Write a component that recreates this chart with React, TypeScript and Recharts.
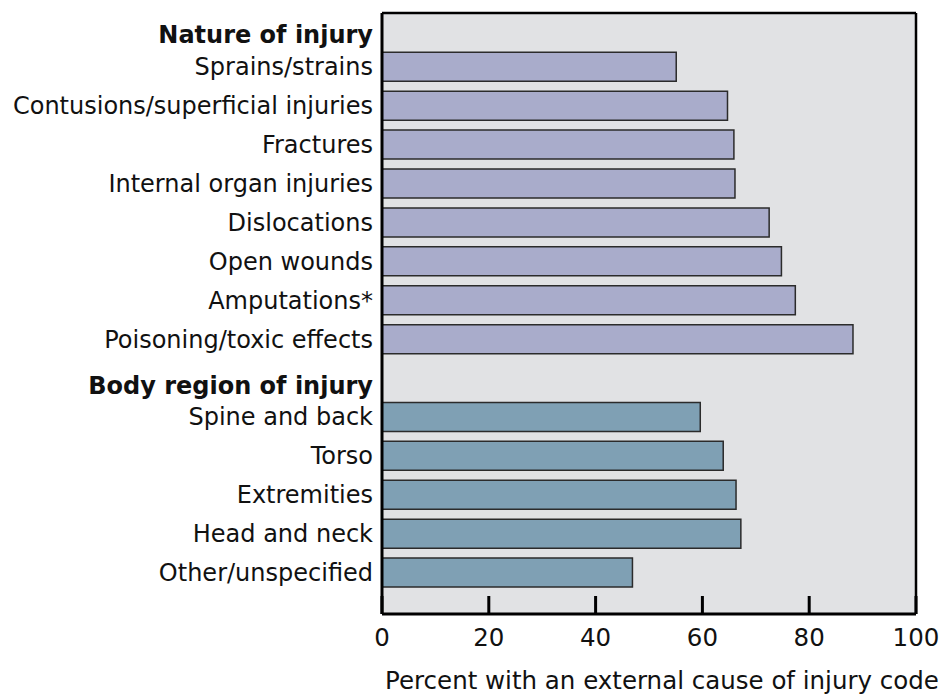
import { BarChart, Bar, XAxis, YAxis, CartesianGrid, Cell } from "recharts";

// Row labels, top to bottom (headers have no bar)
const categories = [
  "Nature of injury",
  "Sprains/strains",
  "Contusions/superficial injuries",
  "Fractures",
  "Internal organ injuries",
  "Dislocations",
  "Open wounds",
  "Amputations*",
  "Poisoning/toxic effects",
  "Body region of injury",
  "Spine and back",
  "Torso",
  "Extremities",
  "Head and neck",
  "Other/unspecified",
];

// Percent with an external cause of injury code
const percents = [
  null, 55.1, 64.7, 65.9, 66.1, 72.5, 74.8, 77.4, 88.2,
  null, 59.6, 63.9, 66.3, 67.2, 46.9,
];

const groups = [
  "header", "nature", "nature", "nature", "nature", "nature", "nature", "nature", "nature",
  "header", "body", "body", "body", "body", "body",
];

const xTicks = [0, 20, 40, 60, 80, 100];

const data = categories.map((name, i) => ({ name, value: percents[i], group: groups[i] }));

const FONT = "'DejaVu Sans', Verdana, sans-serif";
const NATURE_COLOR = "#a9accb";
const BODY_COLOR = "#7fa0b4";
const PLOT_BG = "#e1e2e4";

function CategoryTick(props: any) {
  const { x, y, payload, index } = props;
  const isHeader = groups[index] === "header";
  return (
    <text
      x={x}
      y={y + (isHeader ? 7 : 0)}
      dy="0.355em"
      textAnchor="end"
      fontFamily={FONT}
      fontSize={24}
      fontWeight={isHeader ? 700 : 400}
      fill="#111"
    >
      {payload.value}
    </text>
  );
}

// Inner tick marks pointing up into the plot, label below
function PercentTick(props: any) {
  const { x, y, payload } = props;
  return (
    <g>
      <line x1={x} x2={x} y1={y - 18} y2={y} stroke="#000" strokeWidth={3} />
      <text
        x={x}
        y={y + 23}
        dy="0.355em"
        textAnchor="middle"
        fontFamily={FONT}
        fontSize={24.5}
        fill="#111"
      >
        {payload.value}
      </text>
    </g>
  );
}

export default function App() {
  return (
    <div style={{ position: "absolute", left: 0, top: 0 }}>
      <BarChart
        width={942}
        height={694}
        data={data}
        layout="vertical"
        margin={{ top: 13, right: 26, bottom: 0, left: 0 }}
      >
        {/* plot background plus the top and right frame lines */}
        <CartesianGrid
          fill={PLOT_BG}
          stroke="#000"
          strokeWidth={2.5}
          horizontalCoordinatesGenerator={({ offset }: any) => [offset.top]}
          verticalCoordinatesGenerator={({ offset }: any) => [offset.left + offset.width]}
        />
        <XAxis
          type="number"
          domain={[0, 100]}
          ticks={xTicks}
          interval={0}
          height={80}
          tickSize={0}
          tickMargin={0}
          tickLine={false}
          axisLine={{ stroke: "#000", strokeWidth: 3 }}
          tick={<PercentTick />}
          label={{
            value: "Percent with an external cause of injury code",
            position: "insideBottom",
            offset: 5,
            dx: 13,
            style: { fontFamily: FONT, fontSize: 24.5, fill: "#111" },
          }}
        />
        <YAxis
          type="category"
          dataKey="name"
          width={382}
          interval={0}
          tickSize={0}
          tickMargin={9}
          tickLine={false}
          padding={{ top: -4.6, bottom: 22 }}
          axisLine={{ stroke: "#000", strokeWidth: 3 }}
          tick={<CategoryTick />}
        />
        <Bar
          dataKey="value"
          barSize={29}
          stroke="#2b2b2b"
          strokeWidth={1.5}
          isAnimationActive={false}
        >
          {data.map((d, i) => (
            <Cell key={i} fill={d.group === "body" ? BODY_COLOR : NATURE_COLOR} />
          ))}
        </Bar>
      </BarChart>
    </div>
  );
}
